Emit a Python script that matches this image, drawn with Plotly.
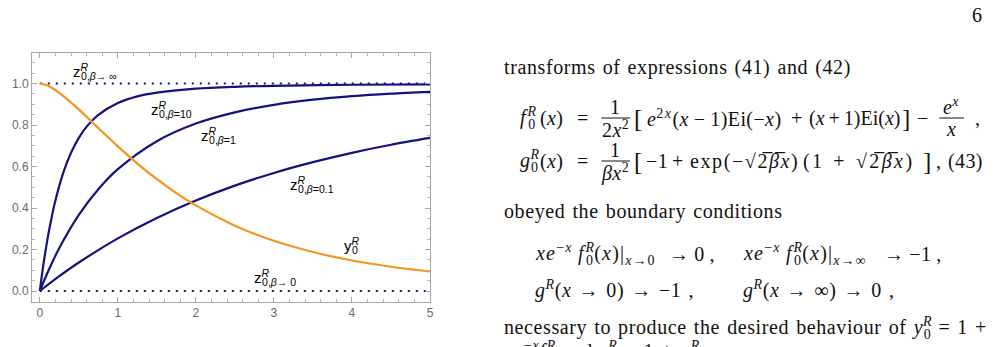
import plotly.graph_objects as go

# ---- data ----
x_b10 = [0, 0.025, 0.05, 0.1, 0.15, 0.2, 0.3, 0.4, 0.5, 0.6, 0.75, 1, 1.25, 1.5, 2, 2.5, 3, 4, 5]
z_b10 = [0, 0.0715, 0.1373, 0.2535, 0.352, 0.436, 0.569, 0.666, 0.738, 0.792, 0.849, 0.906, 0.938,
         0.956, 0.975, 0.984, 0.989, 0.994, 0.996]

x_b1 = [0, 0.1, 0.25, 0.5, 0.75, 1, 1.5, 2, 2.5, 3, 3.5, 4, 4.5, 5]
z_b1 = [0, 0.0895, 0.2072, 0.3669, 0.4906, 0.587, 0.722, 0.807, 0.861, 0.897, 0.922, 0.939, 0.951, 0.960]

x_b01 = [0, 0.25, 0.5, 1, 1.5, 2, 2.5, 3, 3.5, 4, 4.5, 5]
z_b01 = [0, 0.0715, 0.1373, 0.2535, 0.352, 0.436, 0.508, 0.569, 0.621, 0.666, 0.705, 0.738]

x_y0 = [0, 0.1, 0.25, 0.5, 0.75, 1, 1.25, 1.5, 1.75, 2, 2.5, 3, 3.5, 4, 4.5, 5]
y_y0 = [1.0, 0.990, 0.955, 0.875, 0.785, 0.697, 0.614, 0.539, 0.472, 0.4125, 0.315, 0.242, 0.188,
        0.147, 0.117, 0.094]

x_lim = [0, 5]
z_inf = [1, 1]
z_zero = [0, 0]

x_ticks = [0, 1, 2, 3, 4, 5]
y_ticks = [0.0, 0.2, 0.4, 0.6, 0.8, 1.0]

NAVY = '#13137f'
ORANGE = '#f7931e'

# ---- layout geometry (pixels) ----
W, H = 999, 347
L, R, T, B = 26, 430, 53, 302


def px(x):
    return (x - L) / (R - L)


def py(y):
    return (B - y) / (B - T)


fig = go.Figure()
fig.add_trace(go.Scatter(x=x_lim, y=z_inf, mode='lines',
                         line=dict(color=NAVY, width=2.2, dash='2px,6px')))
fig.add_trace(go.Scatter(x=x_lim, y=z_zero, mode='lines',
                         line=dict(color=NAVY, width=2.2, dash='2px,6px')))
for xs, ys in [(x_b10, z_b10), (x_b1, z_b1), (x_b01, z_b01)]:
    fig.add_trace(go.Scatter(x=xs, y=ys, mode='lines',
                             line=dict(color=NAVY, width=2.2, shape='spline', smoothing=0.9)))
fig.add_trace(go.Scatter(x=x_y0, y=y_y0, mode='lines',
                         line=dict(color=ORANGE, width=2.2, shape='spline', smoothing=0.9)))

axis_common = dict(showgrid=False, zeroline=False, showline=True, linecolor='#a8a8a8',
                   linewidth=1, mirror='ticks', ticks='inside', ticklen=5, tickcolor='#a8a8a8',
                   tickfont=dict(family='Liberation Sans', size=12, color='#6a6a6a'))

fig.update_xaxes(range=[-0.1, 5.0], tickvals=x_ticks, ticktext=[str(v) for v in x_ticks],
                 minor=dict(dtick=0.2, tick0=0, ticks='inside', ticklen=3, tickcolor='#b8b8b8'),
                 **axis_common)
fig.update_yaxes(range=[-0.053, 1.147], tickvals=y_ticks, ticktext=['%.1f' % v for v in y_ticks],
                 minor=dict(dtick=0.05, tick0=0, ticks='inside', ticklen=3, tickcolor='#b8b8b8'),
                 **axis_common)

ann = []
TXT = "letter-spacing:0.6px;word-spacing:1.5px"
MATH = "letter-spacing:0.4px;word-spacing:-0.5px"
TIGHT = "letter-spacing:0px;word-spacing:-1px"
WIDE = "letter-spacing:1.6px;word-spacing:0px"
WIDER = "letter-spacing:2.4px;word-spacing:1.5px"


def add(x, y, text, size=20, family='Liberation Serif', xanchor='left', color='#111111',
        style=TXT):
    if style:
        text = "<span style='" + style + "'>" + text + "</span>"
    ann.append(dict(x=px(x), y=py(y), xref='paper', yref='paper', text=text, showarrow=False,
                    xanchor=xanchor, yanchor='middle', font=dict(family=family, size=size, color=color)))


# chart labels
def zlab(x, y, sub, main="z"):
    add(x, y, main + "<sup style='letter-spacing:-7px'><i>R</i></sup><sub>" + sub + "</sub>",
        size=15, family='Liberation Sans', color='#000000', style=None)


zlab(66, 71, "0,<i>β</i>→ ∞")
zlab(145, 109, "0,<i>β</i>=10")
zlab(196, 135, "0,<i>β</i>=1")
zlab(286, 185, "0,<i>β</i>=0.1")
zlab(249, 277, "0,<i>β</i>→ 0")
zlab(341, 245, "0", main="y")

# right-hand text
FR = "<sup style='letter-spacing:-8px'><i>R</i></sup><sub>0</sub>"
FI = "<i style='letter-spacing:2px'>f</i>"
OV = "2\u0305<i>β\u0305</i>"

add(985, 15, "6", xanchor='center', style=None)
add(503, 67, "transforms of expressions (41) and (42)")

# f0 line
add(519, 118, FI + FR, style=MATH)
add(540, 118, "(<i>x</i>)", style=MATH)
add(585, 118, "=", xanchor='center', style=None)
add(618, 107, "1", xanchor='center', style=None)
add(618, 129, "2<i>x</i><sup>2</sup>", xanchor='center', style=MATH)
add(641, 118, "[", xanchor='center', size=25, style=None)
add(648, 118, "<i>e</i><sup style='letter-spacing:1.5px'>2<i>x</i></sup>(<i>x</i> − 1)Ei(−<i>x</i>)", style=MATH)
add(802, 118, "+", xanchor='center', style=None)
add(813, 118, "(<i>x</i> + 1)Ei(<i>x</i>)", style=TIGHT)
add(913, 118, "]", xanchor='center', size=25, style=None)
add(930, 118, "−", xanchor='center', style=None)
add(959, 106, "<i>e</i><sup><i>x</i></sup>", xanchor='center', style=MATH)
add(959, 129, "<i>x</i>", xanchor='center', style=MATH)
add(986, 118, ",", xanchor='center', style=None)

# g0 line
add(519, 161, "<i>g</i>" + FR, style=MATH)
add(540, 161, "(<i>x</i>)", style=MATH)
add(585, 161, "=", xanchor='center', style=None)
add(618, 150, "1", xanchor='center', style=None)
add(618, 172, "<i>βx</i><sup>2</sup>", xanchor='center', style=MATH)
add(641, 161, "[", xanchor='center', size=25, style=None)
add(647, 161, "−1", style=MATH)
add(681, 161, "+", xanchor='center', style=None)
add(692, 161, "exp(−√" + OV + "<i>x</i>)", style=WIDE)
add(807, 161, "(1 + √" + OV + "<i>x</i>)", style=WIDER)
add(934, 161, "]", xanchor='center', size=25, style=None)
add(946, 161, ",", xanchor='center', style=None)
add(993, 161, "(43)", xanchor='right', style=MATH)

add(503, 211, "obeyed the boundary conditions")

XEF = ("<span style='letter-spacing:1.2px'><i>xe</i><sup>−<i>x</i></sup>\u2009" + FI + FR +
       "(<i>x</i>)|</span>")
add(535, 254, XEF + "<sub style='letter-spacing:1px'><i>x</i>→0</sub>", style=MATH)
add(671, 254, "→ 0 ,", style=MATH)
add(746, 254, XEF + "<sub style='letter-spacing:1px'><i>x</i>→∞</sub>", style=MATH)
add(889, 254, "→ −1 ,", style=MATH)
add(535, 289, "<i>g</i><sup><i>R</i></sup>(<i>x</i> → 0) → −1 ,")
add(746, 289, "<i>g</i><sup><i>R</i></sup>(<i>x</i> → ∞) → 0 ,")

add(503, 328, "necessary to produce the desired behaviour of <i>y</i>" + FR + " = 1 +")
add(503, 352, "<i>xe</i><sup>−<i>x</i></sup>" + FI + FR + " and <i>z</i><sup><i>R</i></sup> = 1 + <i>g</i><sup><i>R</i></sup>")

shapes = [
    dict(type='line', xref='paper', yref='paper', x0=px(604), x1=px(633), y0=py(118), y1=py(118),
         line=dict(color='#111111', width=1)),
    dict(type='line', xref='paper', yref='paper', x0=px(947), x1=px(972), y0=py(118), y1=py(118),
         line=dict(color='#111111', width=1)),
    dict(type='line', xref='paper', yref='paper', x0=px(604), x1=px(633), y0=py(161), y1=py(161),
         line=dict(color='#111111', width=1)),
]

fig.update_layout(width=W, height=H, margin=dict(l=L, r=W - R, t=T, b=H - B),
                  paper_bgcolor='white', plot_bgcolor='white', showlegend=False,
                  annotations=ann, shapes=shapes)

fig.write_html("out.html")
